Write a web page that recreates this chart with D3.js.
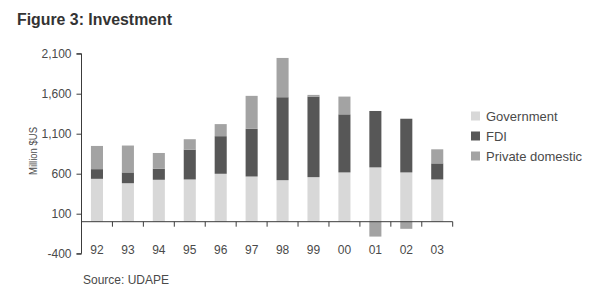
<!DOCTYPE html>
<html><head><meta charset="utf-8">
<script src="https://cdn.jsdelivr.net/npm/d3@7"></script>
<style>body{margin:0;background:#fff}svg{display:block}text{font-family:"Liberation Sans",Arial,sans-serif}</style>
</head><body><svg id="c" width="592" height="291"></svg>
<script>
const years = ["92","93","94","95","96","97","98","99","00","01","02","03"];
const government = [536,481,524,528,599,565,519,557,616,679,616,528];
const fdi = [121,135,138,373,470,596,1037,1007,726,705,671,201];
const privateDomestic = [290,336,197,130,151,412,491,21,222,-186,-89,176];
const seriesNames = ["Government","FDI","Private domestic"];
const yTicks = [-400,100,600,1100,1600,2100];

const colors = {"Government":"#d8d8d8","FDI":"#575757","Private domestic":"#a3a3a3"};
const svg = d3.select("#c");
const x0 = 81.5, x1 = 452.7;
const x = d3.scaleBand().domain(years).range([x0,x1]).paddingInner(0.61).paddingOuter(0.305);
const y = d3.scaleLinear().domain([-400,2100]).range([253.7,53.7]);
const txt = "#4a4a4a", ax = "#3c3c3c";
const fmt = d => d3.format(",")(d).replace("\u2212","-");

// title
svg.append("text").attr("x",17).attr("y",25).attr("font-size",16).attr("font-weight","bold")
  .attr("fill","#333").attr("textLength",155).attr("lengthAdjust","spacingAndGlyphs").text("Figure 3: Investment");

// bars
const rows = years.map((yr,i)=>({yr, g:government[i], f:fdi[i], p:privateDomestic[i]}));
rows.forEach(r=>{
  const segs = [];
  segs.push({s:"Government", a:0, b:r.g});
  segs.push({s:"FDI", a:r.g, b:r.g+r.f});
  if (r.p>=0) segs.push({s:"Private domestic", a:r.g+r.f, b:r.g+r.f+r.p});
  else segs.push({s:"Private domestic", a:r.p, b:0});
  segs.forEach(sg=>{
    svg.append("rect").attr("x",x(r.yr)).attr("width",x.bandwidth())
      .attr("y",y(Math.max(sg.a,sg.b))).attr("height",Math.abs(y(sg.a)-y(sg.b)))
      .attr("fill",colors[sg.s]);
  });
});

// y axis
const yAxis = d3.axisLeft(y).tickValues(yTicks).tickSize(5).tickPadding(5).tickFormat(fmt);
const gy = svg.append("g").attr("transform",`translate(${x0},0)`).call(yAxis);
gy.select(".domain").attr("stroke",ax).attr("d",`M-5,${y(2100)}H0V${y(-400)}H-5`);
gy.selectAll(".tick line").attr("stroke",ax);
gy.selectAll(".tick text").attr("font-size",12).attr("fill",txt).attr("font-family","Liberation Sans, Arial, sans-serif");

// x axis
const gx = svg.append("g").attr("transform",`translate(0,${y(0)})`);
gx.append("line").attr("x1",x0).attr("x2",x1).attr("stroke",ax);
const bounds = years.map((yr)=>x(yr)-x.step()*x.paddingInner()/2).concat([x1]);
gx.selectAll("line.t").data(bounds.slice(1)).join("line").attr("class","t")
  .attr("x1",d=>d).attr("x2",d=>d).attr("y1",0).attr("y2",5).attr("stroke",ax);
const xLab = d3.axisBottom(x).tickSize(0).tickPadding(0);
const gl = svg.append("g").attr("transform",`translate(0,${y(-400)-8})`).call(xLab);
gl.select(".domain").remove();
gl.selectAll(".tick text").attr("font-size",12).attr("fill",txt).attr("font-family","Liberation Sans, Arial, sans-serif");

// y label
svg.append("text").attr("transform",`translate(37,151) rotate(-90)`).attr("text-anchor","middle")
  .attr("font-size",11.5).attr("fill",txt).attr("textLength",48).attr("lengthAdjust","spacingAndGlyphs").text("Million $US");

// source
svg.append("text").attr("x",83).attr("y",284).attr("font-size",12).attr("fill",txt).text("Source: UDAPE");

// legend
const lg = svg.append("g");
seriesNames.forEach((s,i)=>{
  const cy = 116 + i*20;
  lg.append("rect").attr("x",471).attr("y",cy-4.5).attr("width",9).attr("height",9).attr("fill",colors[s]);
  lg.append("text").attr("x",486).attr("y",cy+4.5).attr("font-size",13).attr("fill",txt).text(s);
});
</script></body></html>
